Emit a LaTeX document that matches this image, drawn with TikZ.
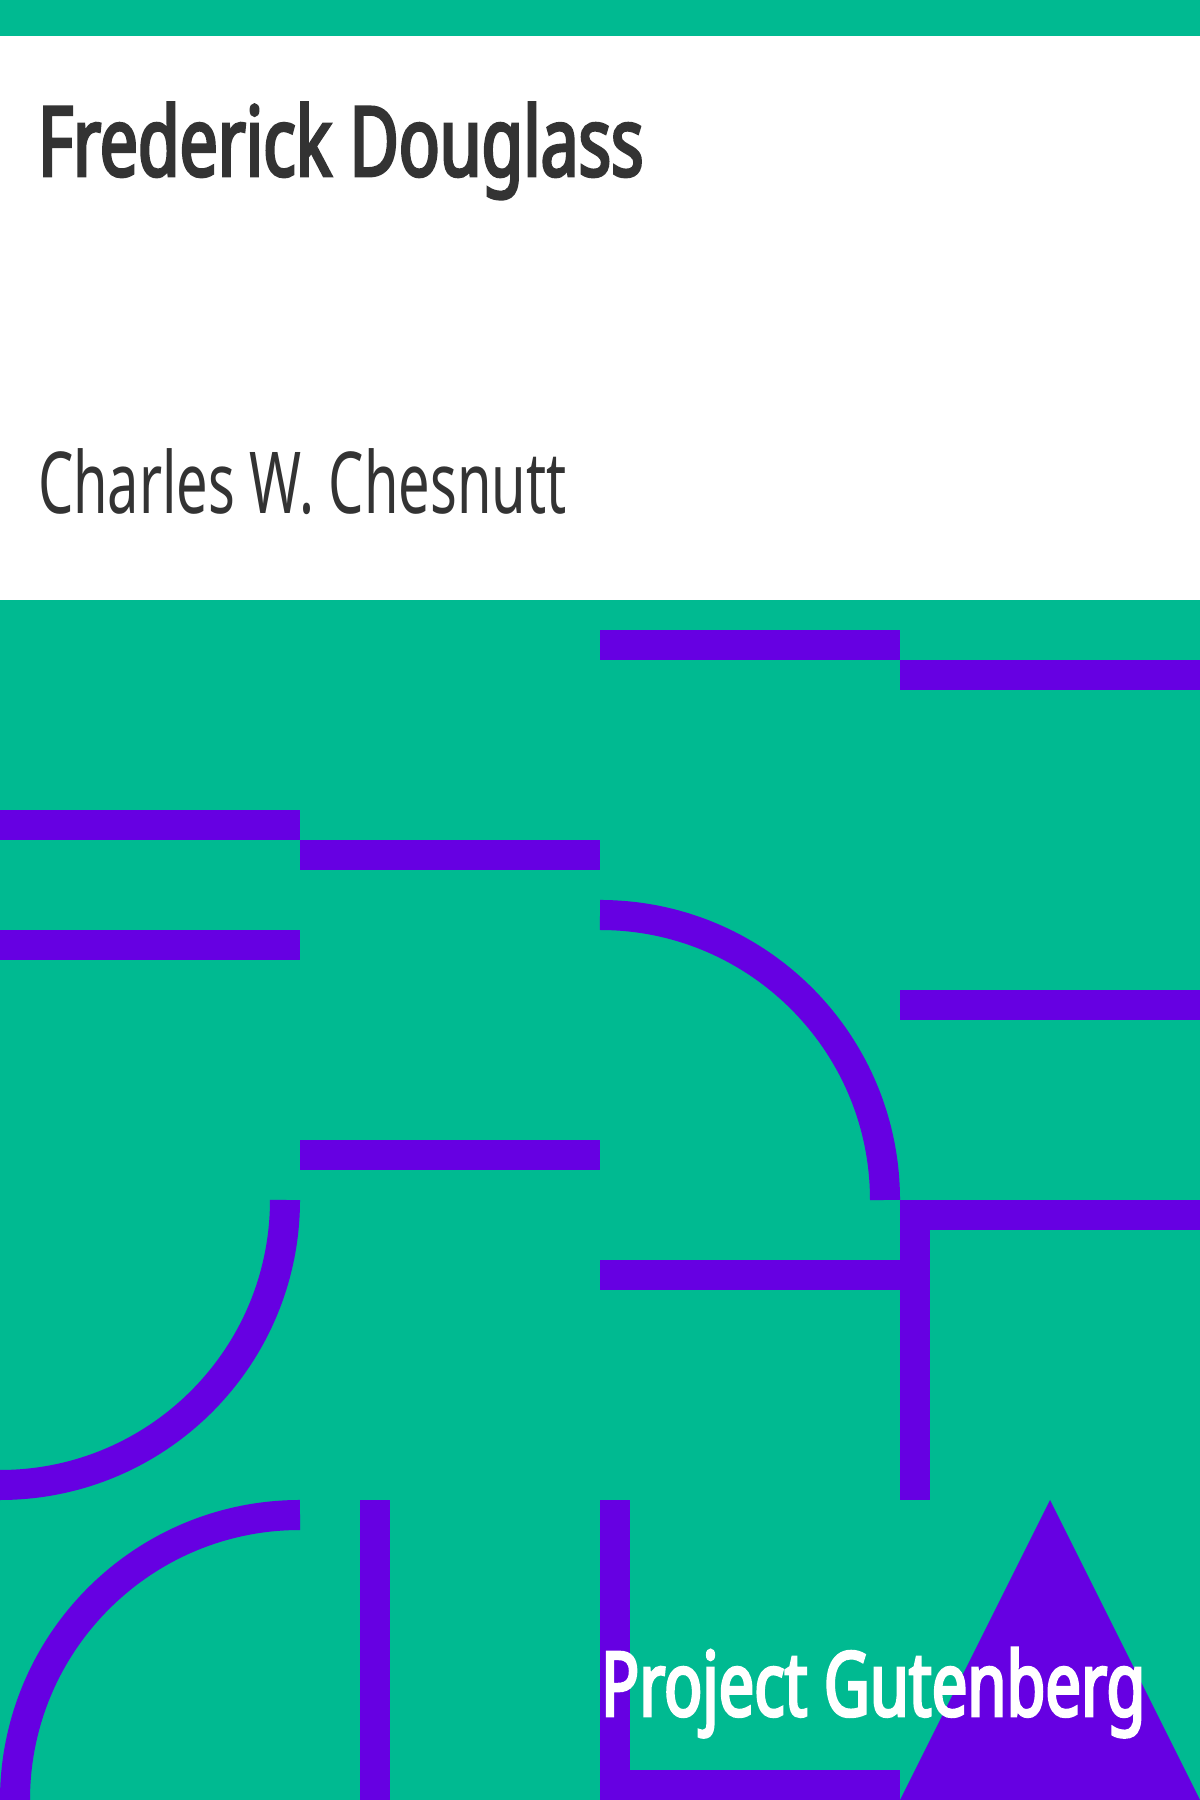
\documentclass[tikz,border=0pt]{standalone}
\usepackage{fontspec}
\setmainfont{Noto Sans}
\newfontfamily\titlefont[FakeStretch=0.70,FakeBold=3]{Noto Sans}
\newfontfamily\authorfont[FakeStretch=0.655]{Noto Sans}
\newfontfamily\pgfont[FakeStretch=0.705,FakeBold=3]{Noto Sans}
\definecolor{coverTeal}{HTML}{00BA91}
\definecolor{coverPurple}{HTML}{6600E2}
\definecolor{coverInk}{HTML}{333333}
\begin{document}
\begin{tikzpicture}
[x=0.01cm,y=0.01cm,%
  barDecorate/.style={fill=coverPurple},%
  arcDecorate/.style={draw=coverPurple,line width=0.3cm},%
  textDecorate/.style={anchor=base west,inner sep=0pt,outer sep=0pt}]
\useasboundingbox (0,0) rectangle (1200,1800);
%% background and header
\fill[white] (0,0) rectangle (1200,1800);
\fill[coverTeal] (0,1764) rectangle (1200,1800);
\fill[coverTeal] (0,0) rectangle (1200,1200);
%% title and author
\node (title) at (38,1624) [textDecorate,text=coverInk] {\titlefont\fontsize{27.5pt}{33pt}\selectfont Frederick Douglass};
\node (author) at (38,1286) [textDecorate,text=coverInk] {\authorfont\fontsize{24.3pt}{29pt}\selectfont Charles W. Chesnutt};
%% bars
\fill[barDecorate] (600,1140) rectangle (900,1170);
\fill[barDecorate] (900,1110) rectangle (1200,1140);
\fill[barDecorate] (0,960) rectangle (300,990);
\fill[barDecorate] (300,930) rectangle (600,960);
\fill[barDecorate] (0,840) rectangle (300,870);
\fill[barDecorate] (900,780) rectangle (1200,810);
\fill[barDecorate] (300,630) rectangle (600,660);
\fill[barDecorate] (900,570) rectangle (1200,600);
\fill[barDecorate] (900,300) rectangle (930,600);
\fill[barDecorate] (600,510) rectangle (900,540);
\fill[barDecorate] (360,0) rectangle (390,300);
\fill[barDecorate] (600,0) rectangle (630,300);
\fill[barDecorate] (600,0) rectangle (900,30);
%% quarter arcs
\draw[arcDecorate] (600,885) arc (90:0:285);
\draw[arcDecorate] (285,600) arc (0:-90:285);
\draw[arcDecorate] (300,285) arc (90:180:285);
%% triangle
\fill[coverPurple] (900,0) -- (1050,300) -- (1200,0) -- cycle;
%% publisher
\node (publisher) at (601,84) [textDecorate,text=white] {\pgfont\fontsize{25.5pt}{30pt}\selectfont Project Gutenberg};
\end{tikzpicture}
\end{document}
